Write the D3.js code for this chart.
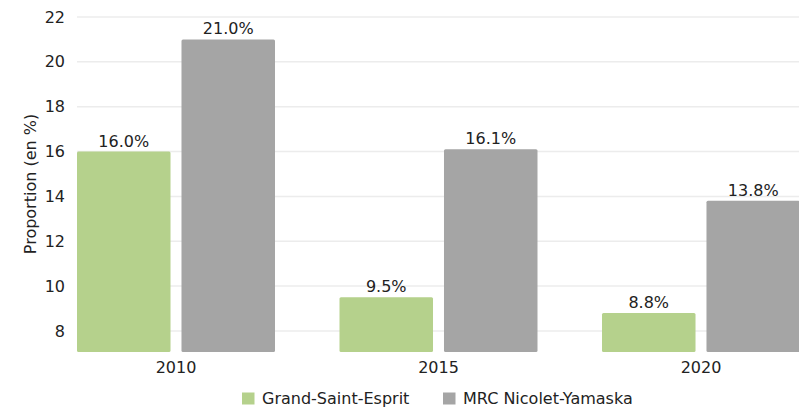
<!DOCTYPE html>
<html><head><meta charset="utf-8">
<script src="https://cdn.jsdelivr.net/npm/d3@7"></script>
<style>body{margin:0;background:#fff}svg{display:block;font-family:"DejaVu Sans",sans-serif}</style>
</head><body>
<svg id="c" width="799" height="407"></svg>
<script>
const years = ["2010","2015","2020"];
const seriesNames = ["Grand-Saint-Esprit","MRC Nicolet-Yamaska"];
const grandSaintEsprit = [16.0, 9.5, 8.8];
const mrcNicoletYamaska = [21.0, 16.1, 13.8];
const yTicks = [8,10,12,14,16,18,20,22];
const colors = ["#b5d18c","#a5a5a5"];
const values = [grandSaintEsprit, mrcNicoletYamaska];
const FS = 16;

const svg = d3.select("#c");
const y = d3.scaleLinear().domain([7.06,22]).range([352,17]);
const x = d3.scaleBand().domain(years).range([77,800]).paddingInner(0.2457).paddingOuter(0);
const xs = d3.scaleBand().domain(seriesNames).range([0,x.bandwidth()]).paddingInner(0.105);

// gridlines
svg.append("g").selectAll("line").data(yTicks).join("line")
  .attr("x1",77).attr("x2",799).attr("y1",d=>y(d)).attr("y2",d=>y(d))
  .attr("stroke","#ececec").attr("stroke-width",1.5);

// y axis labels
const ya = svg.append("g").attr("transform","translate(65,0)")
  .call(d3.axisLeft(y).tickValues(yTicks).tickSize(0).tickPadding(0));
ya.select(".domain").remove();
ya.selectAll("text").attr("font-size",FS).attr("fill","#222").attr("font-family","DejaVu Sans");

svg.append("text").attr("transform","translate(36,184) rotate(-90)")
  .attr("text-anchor","middle").attr("font-size",FS).attr("fill","#222").text("Proportion (en %)");

// bars
const g = svg.append("g");
years.forEach((yr,i)=>{
  seriesNames.forEach((s,j)=>{
    const v = values[j][i];
    const bx = x(yr)+xs(s);
    g.append("rect").attr("x",bx).attr("y",y(v)).attr("width",xs.bandwidth())
      .attr("height",y(7.06)-y(v)).attr("fill",colors[j]).attr("rx",1.5);
    g.append("text").attr("x",bx+xs.bandwidth()/2).attr("y",y(v)-5)
      .attr("text-anchor","middle").attr("font-size",FS).attr("fill","#222")
      .text(v.toFixed(1)+"%");
  });
});

// x axis labels
const xa = svg.append("g").attr("transform","translate(0,352)")
  .call(d3.axisBottom(x).tickSize(0).tickPadding(10));
xa.select(".domain").remove();
xa.selectAll("text").attr("font-size",FS).attr("fill","#222").attr("font-family","DejaVu Sans");

// legend
const legX = [242,443];
const lg = svg.append("g");
seriesNames.forEach((s,j)=>{
  lg.append("rect").attr("x",legX[j]).attr("y",392.5).attr("width",12.5).attr("height",12).attr("fill",colors[j]);
  lg.append("text").attr("x",legX[j]+20).attr("y",404).attr("font-size",FS).attr("fill","#222").text(s);
});
</script>
</body></html>
